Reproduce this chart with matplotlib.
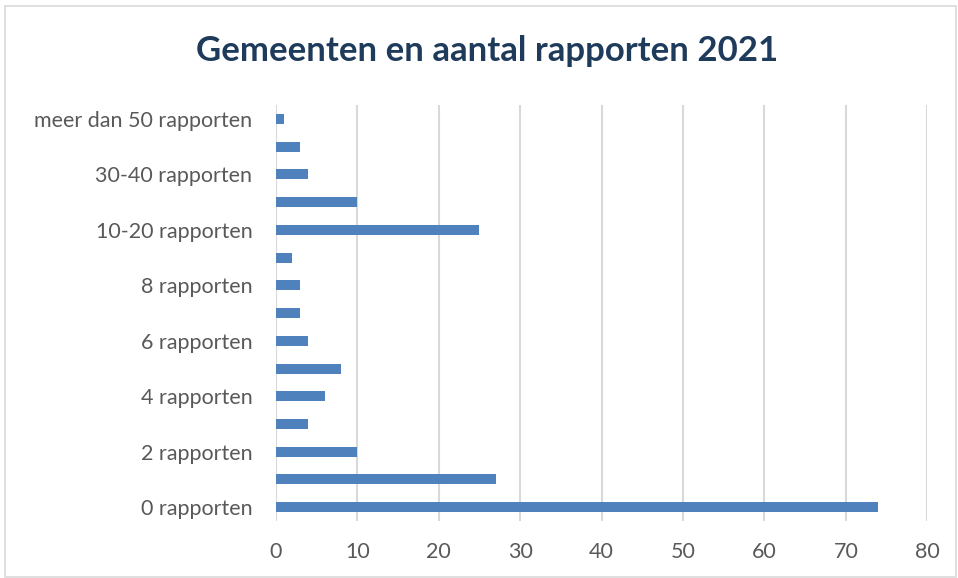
import numpy as np
import matplotlib.pyplot as plt
from matplotlib.patches import Rectangle

categories = ['0 rapporten', '1 rapport', '2 rapporten', '3 rapporten', '4 rapporten',
              '5 rapporten', '6 rapporten', '7 rapporten', '8 rapporten', '9 rapporten',
              '10-20 rapporten', '20-30 rapporten', '30-40 rapporten', '40-50 rapporten',
              'meer dan 50 rapporten']
gemeenten = [74, 27, 10, 4, 6, 8, 4, 3, 3, 2, 25, 10, 4, 3, 1]
x_ticks = [0, 10, 20, 30, 40, 50, 60, 70, 80]

plt.rcParams['font.family'] = ['Lato', 'DejaVu Sans']

fig = plt.figure(figsize=(9.58, 5.78), dpi=100)
ax = fig.add_axes([0.288, 0.0986, 0.680, 0.7195])

y = np.arange(len(categories))
ax.barh(y, gemeenten, height=0.36, color='#4F81BD', zorder=3)

# Excel shows only every other category label
labels = [c if i % 2 == 0 else '' for i, c in enumerate(categories)]
ax.set_yticks(y)
ax.set_yticklabels(labels)
ax.set_ylim(-0.5, len(categories) - 0.5)

ax.set_xlim(0, 80)
ax.set_xticks(x_ticks)
ax.xaxis.grid(True, color='#D9D9D9', linewidth=1.5, zorder=0)
ax.tick_params(axis='both', length=0, labelsize=15.5, colors='#595959')
ax.tick_params(axis='x', pad=15)
ax.tick_params(axis='y', pad=17)
for s in ax.spines.values():
    s.set_visible(False)

fig.text(0.508, 0.912, 'Gemeenten en aantal rapporten 2021', ha='center', va='center',
         fontsize=25, fontweight='bold', color='#1F3B5C')

fig.patches.append(Rectangle((0.005, 0.002), 0.993, 0.988, transform=fig.transFigure,
                             fill=False, edgecolor='#D9D9D9', linewidth=1.2))

fig.savefig('out.png', dpi=100)
